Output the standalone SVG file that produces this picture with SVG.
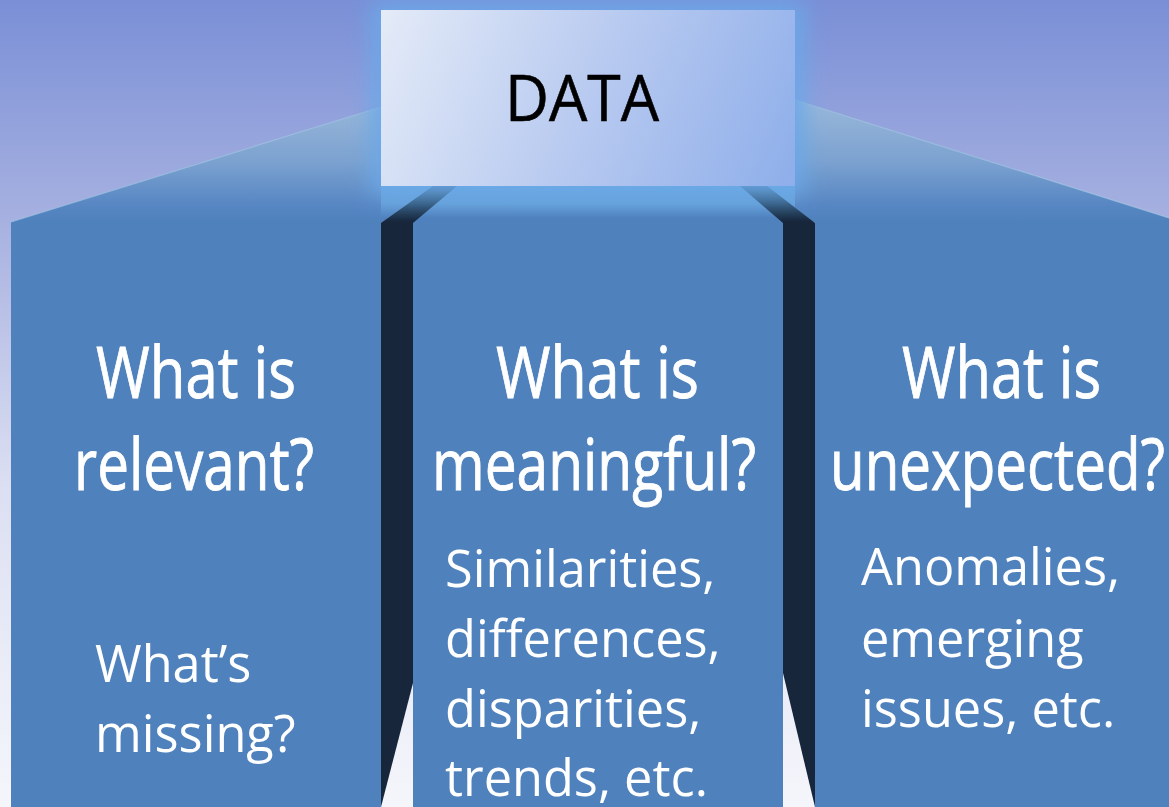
<svg xmlns="http://www.w3.org/2000/svg" width="1169" height="807" viewBox="0 0 1169 807">
  <defs>
    <linearGradient id="bg" x1="0" y1="0" x2="0" y2="807" gradientUnits="userSpaceOnUse">
      <stop offset="0" stop-color="#7a8fd6"/>
      <stop offset="0.28" stop-color="#a8b2e1"/>
      <stop offset="0.6" stop-color="#dcdff2"/>
      <stop offset="1" stop-color="#f5f6fb"/>
    </linearGradient>
    <linearGradient id="colTop" x1="0" y1="100" x2="0" y2="222" gradientUnits="userSpaceOnUse">
      <stop offset="0" stop-color="#9ab8da"/>
      <stop offset="0.5" stop-color="#7ca2d0"/>
      <stop offset="0.85" stop-color="#5887c3"/>
      <stop offset="1" stop-color="#4f81bd"/>
    </linearGradient>
    <linearGradient id="midTop" x1="0" y1="186" x2="0" y2="218" gradientUnits="userSpaceOnUse">
      <stop offset="0" stop-color="#6aa7de"/>
      <stop offset="0.55" stop-color="#66a0d8"/>
      <stop offset="1" stop-color="#4f81bd"/>
    </linearGradient>
    <linearGradient id="barTop" x1="0" y1="186" x2="0" y2="222" gradientUnits="userSpaceOnUse">
      <stop offset="0" stop-color="#3d6b8d"/>
      <stop offset="0.5" stop-color="#2e5273"/>
      <stop offset="1" stop-color="#17263b"/>
    </linearGradient>
    <linearGradient id="boxFill" x1="381" y1="10" x2="795" y2="186" gradientUnits="userSpaceOnUse">
      <stop offset="0" stop-color="#e4ebf8"/>
      <stop offset="0.5" stop-color="#b8caf0"/>
      <stop offset="1" stop-color="#8eaeea"/>
    </linearGradient>
    <filter id="glow" x="-30%" y="-40%" width="160%" height="180%">
      <feGaussianBlur stdDeviation="11"/>
    </filter>
  </defs>
  <style>
    .col { fill: #4f81bd; }
    .edge { fill: none; stroke: #a6c8e4; stroke-width: 1.2; opacity: 0.7; }
    .bar { fill: #17263b; }
    .head { font-family: "Open Sans", "Liberation Sans", sans-serif; font-size: 72px; fill: #ffffff; stroke: #ffffff; stroke-width: 0.9; }
    .body { font-family: "Open Sans", "Liberation Sans", sans-serif; font-size: 50.5px; fill: #ffffff; }
    .title { font-family: "Open Sans", "Liberation Sans", sans-serif; font-size: 64px; fill: #000000; stroke: #000000; stroke-width: 0.6; }
  </style>

  <!-- backdrop -->
  <rect x="0" y="0" width="1169" height="807" fill="url(#bg)"/>

  <!-- left column -->
  <g id="col-relevant">
    <polygon class="col" points="11,807 11,222 381,107 381,807"/>
    <polygon fill="url(#colTop)" points="11,222 381,107 381,222"/>
    <line class="edge" x1="11" y1="222" x2="381" y2="107"/>
    <text class="head" x="96" y="398" textLength="200" lengthAdjust="spacingAndGlyphs">What is</text>
    <text class="head" x="74" y="490" textLength="240" lengthAdjust="spacingAndGlyphs">relevant?</text>
    <text class="body" x="95" y="682">What’s</text>
    <text class="body" x="95" y="752">missing?</text>
  </g>

  <!-- right column -->
  <g id="col-unexpected">
    <polygon class="col" points="795,100 1169,218 1169,807 815,807 815,223 795,200"/>
    <polygon fill="url(#colTop)" points="795,100 1169,218 1169,222 795,222"/>
    <line class="edge" x1="795" y1="100" x2="1169" y2="218"/>
    <text class="head" x="902" y="398" textLength="199" lengthAdjust="spacingAndGlyphs">What is</text>
    <text class="head" x="830" y="490" textLength="335" lengthAdjust="spacingAndGlyphs">unexpected?</text>
    <text class="body" x="861" y="585">Anomalies,</text>
    <text class="body" x="861" y="657">emerging</text>
    <text class="body" x="861" y="727">issues, etc.</text>
  </g>

  <!-- middle column -->
  <g id="col-meaningful">
    <rect x="381" y="186" width="414" height="37" fill="url(#midTop)"/>
    <rect class="col" x="413" y="222" width="370" height="585"/>
    <text class="head" x="496" y="398" textLength="203" lengthAdjust="spacingAndGlyphs">What is</text>
    <text class="head" x="432" y="490" textLength="324" lengthAdjust="spacingAndGlyphs">meaningful?</text>
    <text class="body" x="445" y="587">Similarities,</text>
    <text class="body" x="445" y="657">differences,</text>
    <text class="body" x="445" y="727">disparities,</text>
    <text class="body" x="445" y="796">trends, etc.</text>
  </g>

  <!-- dark links from DATA down into the columns -->
  <g id="connectors">
    <polygon class="bar" points="381,807 381,223 413,223 413,683"/>
    <polygon fill="url(#barTop)" points="381,223 433,186 457,186 413,223"/>
    <polygon class="bar" points="783,673 783,223 815,223 815,807"/>
    <polygon fill="url(#barTop)" points="783,223 740,186 767,186 815,223"/>
  </g>

  <!-- DATA box with soft halo -->
  <g id="data">
    <rect x="371" y="2" width="434" height="194" fill="#6aa8e8" filter="url(#glow)" opacity="0.95"/>
    <rect x="381" y="10" width="414" height="176" fill="url(#boxFill)"/>
    <text class="title" x="505" y="121" textLength="154" lengthAdjust="spacingAndGlyphs">DATA</text>
  </g>
</svg>
